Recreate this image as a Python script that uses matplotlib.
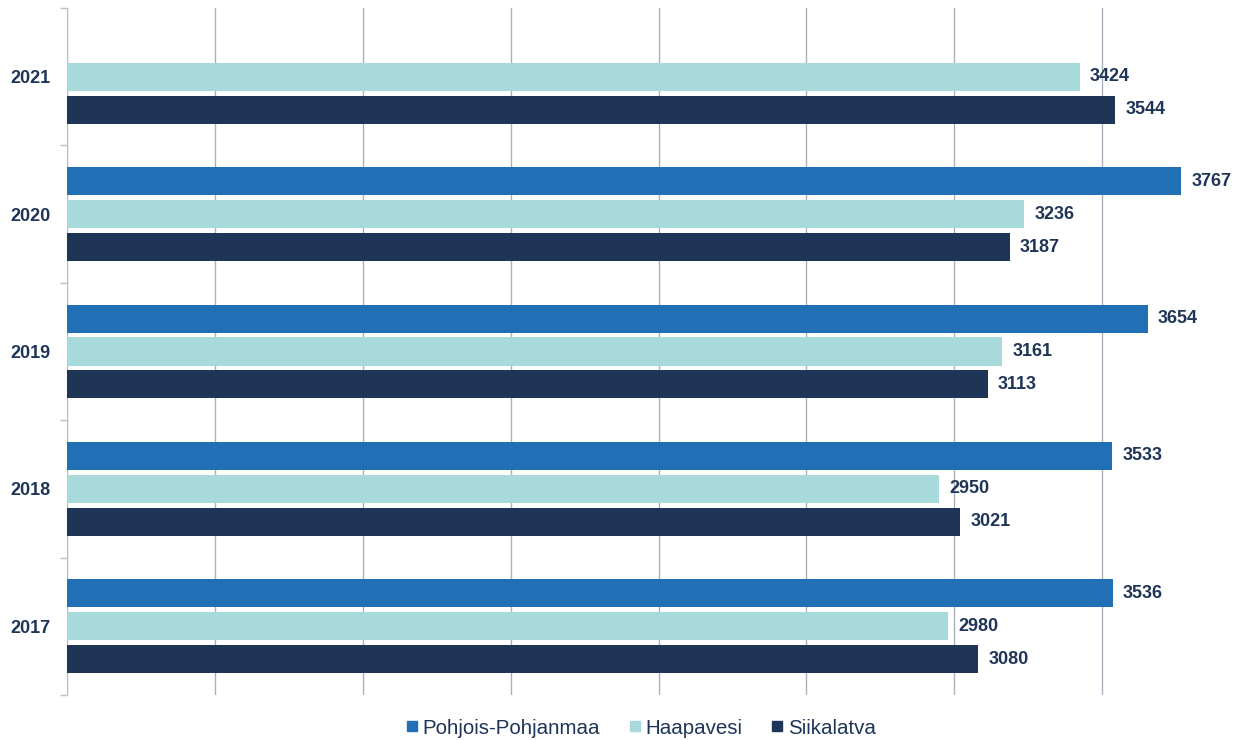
import numpy as np
import matplotlib.pyplot as plt
from matplotlib.lines import Line2D

years = ['2017', '2018', '2019', '2020', '2021']
pohjois = [3536, 3533, 3654, 3767, None]
haapavesi = [2980, 2950, 3161, 3236, 3424]
siikalatva = [3080, 3021, 3113, 3187, 3544]

names = ['Pohjois-Pohjanmaa', 'Haapavesi', 'Siikalatva']
colors = ['#2170b5', '#a8dadb', '#1f3557']
txt = '#1f3557'

plt.rcParams['font.family'] = ['Liberation Sans', 'DejaVu Sans']

fig = plt.figure(figsize=(12.5, 7.4), dpi=100)
ax = fig.add_axes([0.0536, 0.061, 0.9464, 0.928])

y = np.arange(len(years))
offs = [0.24, 0.0, -0.24]
h = 0.204
for k, (vals, name, c) in enumerate(zip([pohjois, haapavesi, siikalatva], names, colors)):
    for i, v in enumerate(vals):
        if v is None:
            continue
        ax.barh(y[i] + offs[k], v, height=h, color=c, zorder=3)
        ax.text(v + 35, y[i] + offs[k], str(v), va='center', ha='left',
                fontsize=13, fontweight='bold', color=txt)

ax.set_xlim(0, 4000)
ax.set_ylim(-0.5, len(years) - 0.5)
ax.set_xticks(np.arange(0, 3501, 500))
ax.set_xticklabels([])
ax.tick_params(axis='x', length=0)
ax.grid(axis='x', color='#a9b1bd', linewidth=1, zorder=0)

ax.set_yticks(y)
ax.set_yticklabels(years, fontsize=13, fontweight='bold', color=txt)
ax.tick_params(axis='y', which='major', length=0, pad=12)
ax.set_yticks(np.arange(-0.5, len(years), 1), minor=True)
ax.tick_params(axis='y', which='minor', length=5, color='#bfbfbf', width=1)

for s in ['top', 'right', 'bottom']:
    ax.spines[s].set_visible(False)
ax.spines['left'].set_color('#bfbfbf')

hs = [Line2D([], [], marker='s', linestyle='', color=c, markersize=7) for c in colors]
fig.legend(hs, names, loc='center', bbox_to_anchor=(0.511, 0.016), ncol=3,
           frameon=False, fontsize=14.8, handletextpad=0.0, handlelength=1.0,
           columnspacing=1.2, labelcolor=txt)

fig.savefig('out.png', dpi=100)
